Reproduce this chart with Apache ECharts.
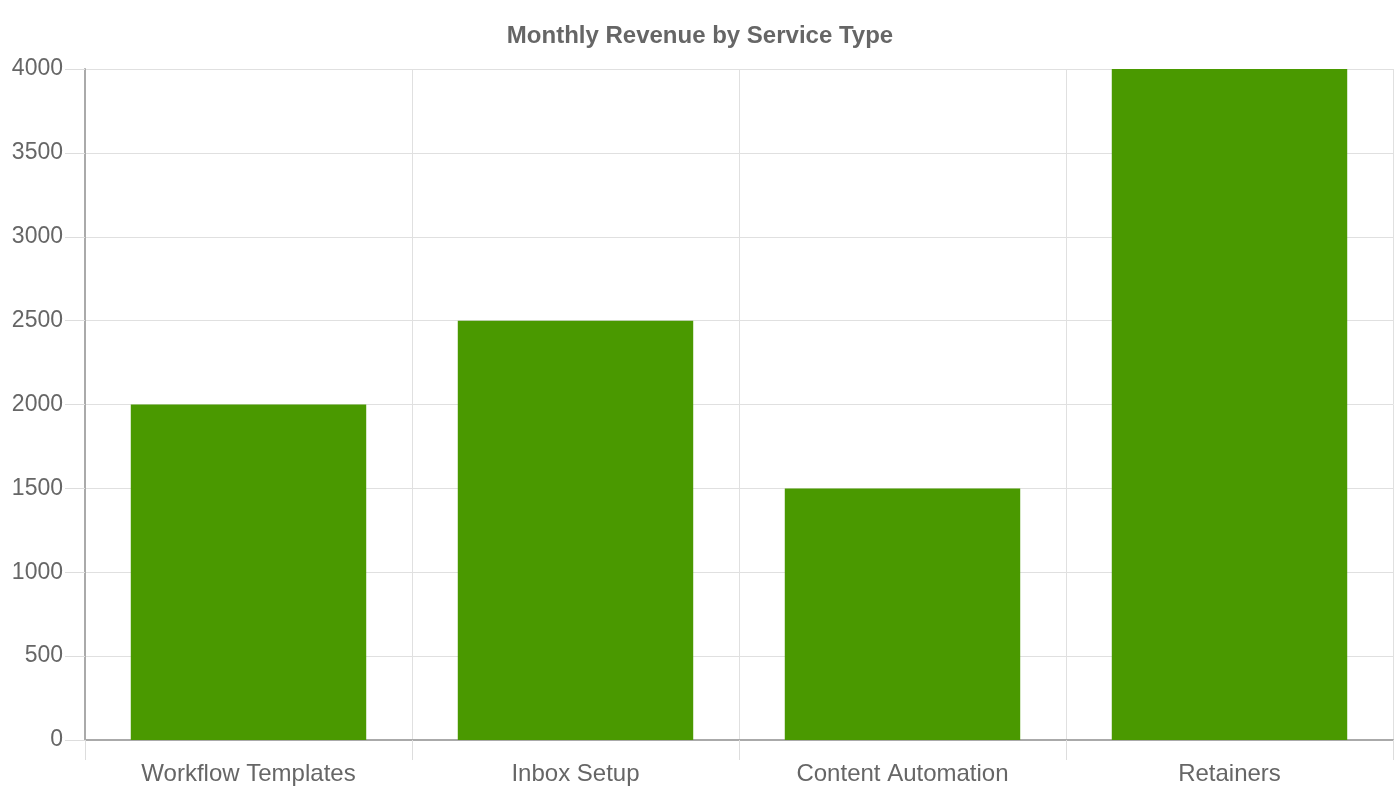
<!DOCTYPE html>
<html><head><meta charset="utf-8">
<script src="https://cdn.jsdelivr.net/npm/echarts@6/dist/echarts.min.js"></script>
<style>html,body{margin:0;padding:0;background:#fff}#c{width:1400px;height:800px}</style>
</head><body><div id="c"></div>
<script>
const categories = ["Workflow Templates", "Inbox Setup", "Content Automation", "Retainers"];
const revenue = [2000, 2500, 1500, 4000];
const chartTitle = "Monthly Revenue by Service Type";

const chart = echarts.init(document.getElementById('c'));
chart.setOption({
  animation: false,
  title: {
    text: chartTitle, left: 'center', top: 19,
    textStyle: { fontFamily: 'Liberation Sans', fontSize: 24, fontWeight: 'bold', color: '#666' }
  },
  grid: { left: 85, right: 7, top: 69, bottom: 60, containLabel: false },
  xAxis: {
    type: 'category', data: categories, boundaryGap: true,
    axisLine: { lineStyle: { color: '#aaa', width: 2 } },
    axisTick: { show: true, length: 20, lineStyle: { color: '#ddd' } },
    splitLine: { show: true, lineStyle: { color: '#e0e0e0', width: 1 } },
    axisLabel: { fontFamily: 'Liberation Sans', fontSize: 24, color: '#666', margin: 22 }
  },
  yAxis: {
    type: 'value', min: 0, max: 4000, interval: 500,
    axisLine: { show: true, lineStyle: { color: '#aaa', width: 2 } },
    axisTick: { show: true, length: 20, lineStyle: { color: '#ddd' } },
    splitLine: { show: true, lineStyle: { color: '#e0e0e0', width: 1 } },
    axisLabel: { fontFamily: 'Liberation Sans', fontSize: 23, color: '#666', margin: 22,
      formatter: v => String(v) }
  },
  series: [{
    type: 'bar', data: revenue, barWidth: '72%',
    itemStyle: { color: '#4a9900' }
  }]
});
</script></body></html>
